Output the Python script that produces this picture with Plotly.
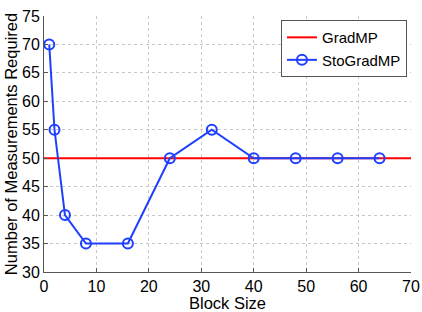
import plotly.graph_objects as go

block_sizes = [1, 2, 4, 8, 16, 24, 32, 40, 48, 56, 64]
sto_gradmp = [70, 55, 40, 35, 35, 50, 55, 50, 50, 50, 50]
gradmp_x = [0, 70]
gradmp_y = [50, 50]

fig = go.Figure()
fig.add_trace(go.Scatter(x=gradmp_x, y=gradmp_y, mode="lines", name="GradMP",
                         line=dict(color="#ff0000", width=2)))
fig.add_trace(go.Scatter(x=block_sizes, y=sto_gradmp, mode="lines+markers", name="StoGradMP",
                         line=dict(color="#1f3fff", width=2),
                         marker=dict(symbol="circle-open", size=10, color="#1f3fff",
                                     line=dict(width=2, color="#1f3fff"))))

font = "Liberation Sans, Arial, sans-serif"
fig.update_layout(
    width=422, height=312,
    margin=dict(l=44, r=11, t=16, b=40, autoexpand=False),
    paper_bgcolor="white", plot_bgcolor="white",
    font=dict(family=font, size=16, color="black"),
    showlegend=True,
    legend=dict(x=0.989, y=0.984, xanchor="right", yanchor="top",
                bgcolor="white", bordercolor="#555", borderwidth=1,
                font=dict(size=15), tracegroupgap=0, itemwidth=30),
    xaxis=dict(range=[0, 70], dtick=10, showgrid=True, gridcolor="#c8c8c8",
               griddash="dot", gridwidth=1, showline=True, linecolor="#555",
               ticks="inside", ticklen=4, tickcolor="#555", zeroline=False,
               automargin=False,
               title=dict(text="Block Size", standoff=0, font=dict(size=16.5)),
               tickfont=dict(size=16)),
    yaxis=dict(range=[30, 75], dtick=5, showgrid=True, gridcolor="#c8c8c8",
               griddash="dot", gridwidth=1, showline=True, linecolor="#555",
               ticks="inside", ticklen=4, tickcolor="#555", zeroline=False,
               automargin=False,
               title=dict(text="Number of Measurements Required", standoff=0, font=dict(size=16.5)),
               tickfont=dict(size=16)),
)
fig.write_html("out.html", config={"displayModeBar": False},
               post_script="document.body.style.margin='0';document.body.style.padding='0';")
